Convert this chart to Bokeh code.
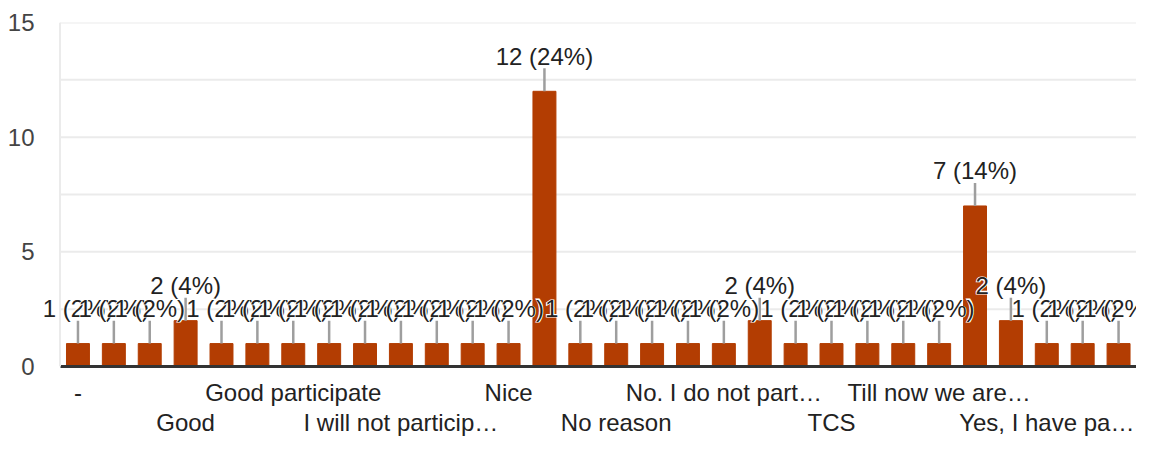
from bokeh.plotting import figure
from bokeh.models import ColumnDataSource, FixedTicker, Range1d, Label, Span
from bokeh.embed import file_html
from bokeh.resources import INLINE

# Response categories in chart order ("" = label not shown on the chart)
categories = ["-", "", "", "Good", "", "", "Good participate", "", "",
              "I will not particip…", "", "", "Nice", "", "", "No reason", "", "",
              "No. I do not part…", "", "", "TCS", "", "", "Till now we are…", "", "",
              "Yes, I have pa…", "", ""]
counts = [1, 1, 1, 2, 1, 1, 1, 1, 1, 1, 1, 1, 1, 12, 1, 1, 1, 1, 1, 2,
          1, 1, 1, 1, 1, 7, 2, 1, 1, 1]
y_ticks = [0, 5, 10, 15]
grid_ticks = [2.5, 5, 7.5, 10, 12.5, 15]

FONT = "Liberation Sans"
FS = "24px"
BAR = "#b33d02"
GRID = "#ebebeb"

n = len(counts)
total = sum(counts)
xs = list(range(1, n + 1))
labels = [f"{c} ({round(100 * c / total)}%)" for c in counts]
LEAD = 1.0
LEFT_PAD = 0.6  # extra room left of the first band so its label is not clipped
src = ColumnDataSource(dict(x=xs, top=counts, lead=[c + LEAD for c in counts]))
gsrc = ColumnDataSource(dict(y=grid_ticks, x0=[0.5] * len(grid_ticks), x1=[n + 0.5] * len(grid_ticks)))

p = figure(width=1136, height=438, output_backend="svg", toolbar_location=None,
           x_range=Range1d(0.5 - LEFT_PAD, n + 0.5), y_range=Range1d(0, 15),
           min_border_left=38, min_border_right=0, min_border_top=22, min_border_bottom=60)
p.outline_line_color = None
p.xgrid.visible = False
p.ygrid.visible = False

# horizontal grid lines over the bands only, and the left edge line
p.segment(x0="x0", y0="y", x1="x1", y1="y", line_color=GRID, line_width=2, source=gsrc)
p.add_layout(Span(location=0.5, dimension="height", line_color=GRID, line_width=2))

p.vbar(x="x", top="top", width=0.64, color=BAR, source=src)
p.segment(x0="x", y0="top", x1="x", y1="lead", line_color="#9e9e9e", line_width=2.5, source=src)

# value labels, drawn left to right, each with a white halo over earlier ones
for i in range(n):
    halo = Label(x=xs[i], y=counts[i], text=labels[i], y_offset=35,
                 text_align="center", text_baseline="middle",
                 text_font=FONT, text_font_size=FS, text_font_style="bold",
                 text_color="white", text_outline_color="white")
    lab = Label(x=xs[i], y=counts[i], text=labels[i], y_offset=35,
                text_align="center", text_baseline="middle",
                text_font=FONT, text_font_size=FS, text_color="#222222")
    p.add_layout(halo)
    p.add_layout(lab)

# y axis (labels only)
ya = p.yaxis[0]
ya.ticker = FixedTicker(ticks=y_ticks)
ya.axis_line_color = None
ya.major_tick_line_color = None
ya.minor_tick_line_color = None
ya.major_tick_out = 0
ya.major_label_standoff = 4
ya.major_label_text_font = FONT
ya.major_label_text_font_size = FS
ya.major_label_text_color = "#444444"

# x axis: labelled categories alternate between two rows
shown = [i for i, c in enumerate(categories) if c]
overrides = {}
for k, i in enumerate(shown):
    overrides[xs[i]] = categories[i] if k % 2 == 0 else "\n" + categories[i]

xa = p.xaxis[0]
xa.bounds = (0.5, n + 0.5)
xa.ticker = FixedTicker(ticks=[xs[i] for i in shown])
xa.major_label_overrides = overrides
xa.major_tick_line_color = None
xa.minor_tick_line_color = None
xa.major_tick_out = 0
xa.major_tick_in = 0
xa.major_label_standoff = 12
xa.major_label_text_line_height = 1.12
xa.major_label_text_font = FONT
xa.major_label_text_font_size = FS
xa.major_label_text_color = "#222222"
xa.axis_line_color = "#333333"
xa.axis_line_width = 3

open("out.html", "w").write(file_html(p, INLINE))
